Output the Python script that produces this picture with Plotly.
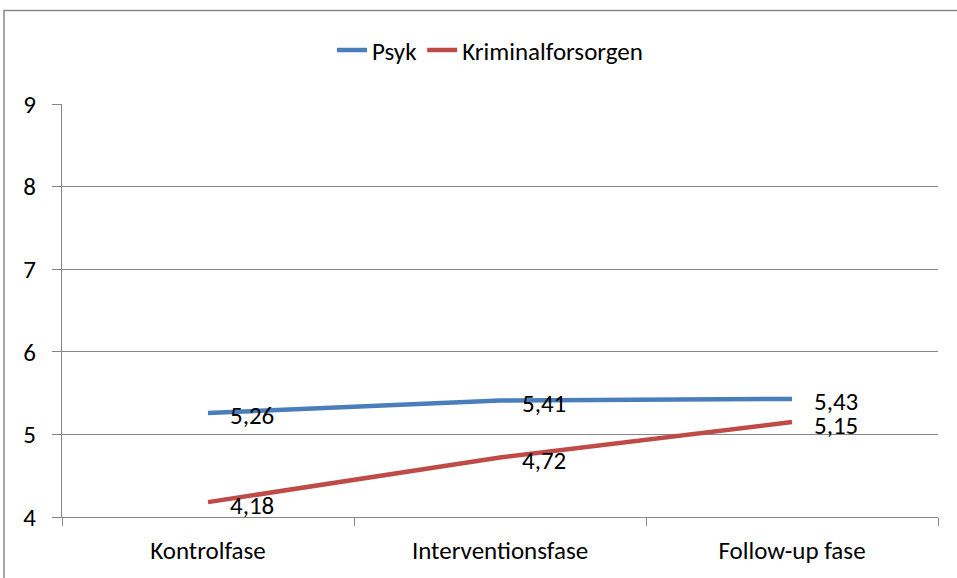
import plotly.graph_objects as go

categories = ["Kontrolfase", "Interventionsfase", "Follow-up fase"]
psyk = [5.26, 5.41, 5.43]
kriminal = [4.18, 4.72, 5.15]
series_names = ["Psyk", "Kriminalforsorgen"]
series_colors = ["#4A7EBB", "#BE4B48"]
y_ticks = [4, 5, 6, 7, 8, 9]

FONT = "Calibri, Carlito, Lato, sans-serif"
FS = 25
W, H = 957, 578
ML, MR, MT, MB = 62, 19, 104, 59
PW, PH = W - ML - MR, H - MT - MB


def px_x(p):
    return (p - ML) / PW


def px_y(p):
    return (H - MB - p) / PH


fig = go.Figure()
for name, vals, col in zip(series_names, [psyk, kriminal], series_colors):
    fig.add_trace(go.Scatter(
        x=categories, y=vals, name=name, mode="lines",
        line=dict(color=col, width=4.5), hoverinfo="skip",
    ))

annotations = []
for vals in [psyk, kriminal]:
    for c, v in zip(categories, vals):
        annotations.append(dict(
            x=c, y=v, xref="x", yref="y",
            text=f"{v:.2f}".replace(".", ","),
            showarrow=False, xanchor="left", yanchor="middle",
            xshift=20, yshift=-3,
            font=dict(family=FONT, size=FS, color="#000000"),
        ))

fig.update_layout(
    width=W, height=H,
    margin=dict(l=ML, r=MR, t=MT, b=MB, pad=0),
    paper_bgcolor="white", plot_bgcolor="white",
    font=dict(family=FONT, size=FS, color="#000000"),
    showlegend=True,
    legend=dict(
        orientation="h", x=px_x(490), xanchor="center",
        y=px_y(50), yanchor="middle",
        font=dict(family=FONT, size=FS, color="#000000"),
        bgcolor="rgba(0,0,0,0)", itemwidth=30,
    ),
    annotations=annotations,
    shapes=[dict(
        type="rect", xref="paper", yref="paper",
        x0=px_x(4), x1=px_x(962), y0=px_y(585), y1=px_y(10),
        line=dict(color="#898989", width=1.5), layer="below",
    )],
)

fig.update_xaxes(
    type="category", range=[-0.5, 2.5],
    showline=True, linecolor="#878787", linewidth=1.3,
    ticks="outside", ticklen=8, tickcolor="#878787", tickwidth=1.3,
    tickson="boundaries", showgrid=False, zeroline=False,
    ticklabelstandoff=11,
    tickfont=dict(family=FONT, size=FS, color="#000000"),
)
fig.update_yaxes(
    range=[4, 9], tickvals=y_ticks, ticktext=[str(t) for t in y_ticks],
    showline=True, linecolor="#878787", linewidth=1.3,
    ticks="outside", ticklen=9, tickcolor="#878787", tickwidth=1.3,
    showgrid=True, gridcolor="#878787", gridwidth=1.3, zeroline=False,
    ticklabelstandoff=11,
    tickfont=dict(family=FONT, size=FS, color="#000000"),
)

fig.write_html(
    "out.html",
    config={"displayModeBar": False},
    post_script="document.body.style.margin='0';document.body.style.padding='0';",
)
